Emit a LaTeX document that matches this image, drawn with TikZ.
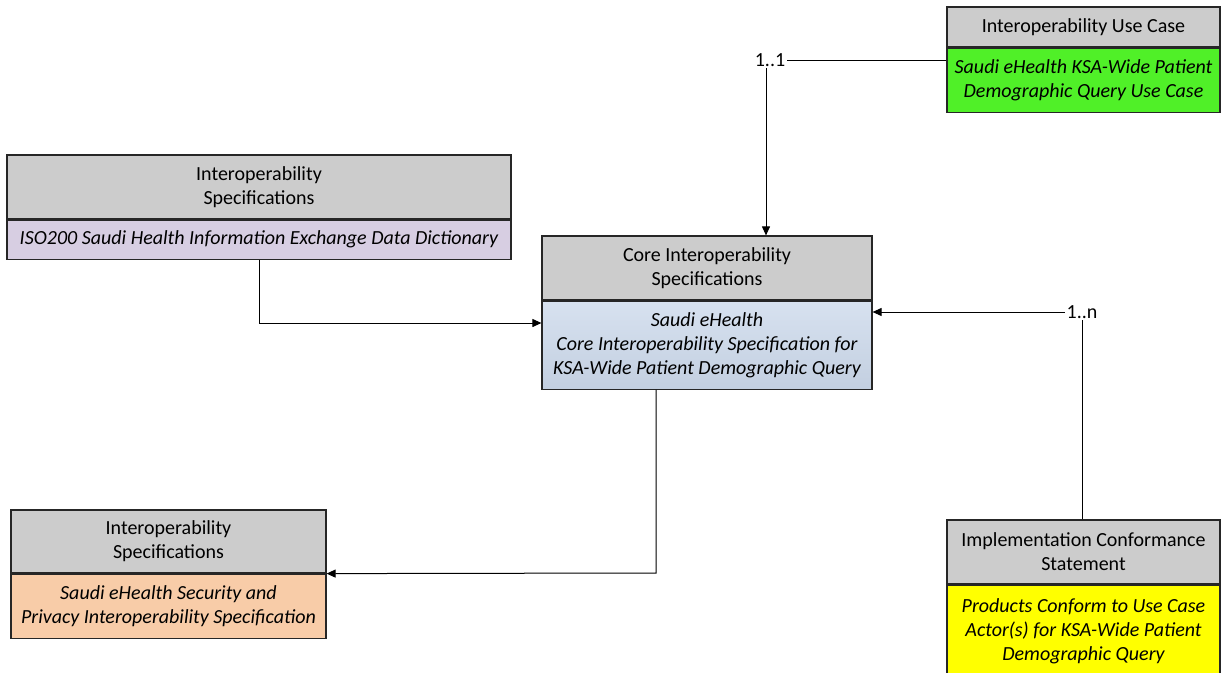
\documentclass[tikz,border=0pt]{standalone}
\usepackage{fontspec}
\setmainfont{Carlito}
\usetikzlibrary{arrows.meta}
\definecolor{headgray}{RGB}{204,204,204}
\definecolor{ucgreen}{RGB}{80,240,40}
\definecolor{isolav}{RGB}{215,206,226}
\definecolor{coreblue}{RGB}{205,218,236}
\definecolor{secorange}{RGB}{248,204,168}
\definecolor{icsyellow}{RGB}{255,255,0}
\tikzset{
  boxpart/.style={draw=black!85, line width=1.2pt, align=center, inner sep=0pt, font=\fontsize{20}{23.8}\selectfont},
  hdr/.style={boxpart, fill=headgray},
  bodypart/.style={boxpart, font=\fontsize{20}{23.8}\selectfont\itshape},
  conn/.style={line width=1pt, black},
  arr/.style={conn, -{Triangle[length=9pt,width=8pt]}},
  lab/.style={fill=white, inner sep=1.5pt, font=\fontsize{20}{23.8}\selectfont}
}
\begin{document}
\begin{tikzpicture}[x=1pt,y=-1pt]
\fill[white] (0,0) rectangle (1225,672);
\clip (0,0) rectangle (1225,672);
% Use case
\node[hdr, minimum width=273pt, minimum height=40pt] (ucH) at (1083.5,27) {Interoperability Use Case};
\node[bodypart, fill=ucgreen, minimum width=273pt, minimum height=64pt, anchor=north] (ucB) at (ucH.south) {Saudi eHealth KSA-Wide Patient\\Demographic Query Use Case};
% ISO
\node[hdr, minimum width=504pt, minimum height=64pt] (isoH) at (259,187) {Interoperability\\Specifications};
\node[bodypart, fill=isolav, minimum width=504pt, minimum height=39pt, anchor=north] (isoB) at (isoH.south) {ISO200 Saudi Health Information Exchange Data Dictionary};
% Core
\node[hdr, minimum width=330pt, minimum height=64pt] (coreH) at (707,268) {Core Interoperability\\Specifications};
\node[bodypart, top color=coreblue!80!white, bottom color=coreblue!95!black, minimum width=330pt, minimum height=88pt, anchor=north] (coreB) at (coreH.south) {Saudi eHealth\\Core Interoperability Specification for\\KSA-Wide Patient Demographic Query};
% Security
\node[hdr, minimum width=315pt, minimum height=63pt] (secH) at (168.5,541.5) {Interoperability\\Specifications};
\node[bodypart, fill=secorange, minimum width=315pt, minimum height=64pt, anchor=north] (secB) at (secH.south) {Saudi eHealth Security and\\Privacy Interoperability Specification};
% ICS
\node[hdr, minimum width=273pt, minimum height=64pt] (icsH) at (1083.5,552) {Implementation Conformance\\Statement};
\node[bodypart, fill=icsyellow, minimum width=273pt, minimum height=92pt, anchor=north] (icsB) at (icsH.south) {Products Conform to Use Case\\Actor(s) for KSA-Wide Patient\\Demographic Query};
% connectors
\coordinate (k1) at (766,60);
\draw[arr] (ucB.west |- k1) -- (k1) -- (coreH.north -| k1);
\node[lab] (l1) at ([xshift=4pt]k1) {1..1};
\coordinate (k2) at (1082,312);
\draw[arr] (icsH.north -| k2) -- (k2) -- (coreB.east |- k2);
\node[lab] (l2) at (k2) {1..n};
\coordinate (k3) at (259,323);
\draw[arr] (isoB.south) -- (k3) -- (coreB.west |- k3);
\coordinate (k4) at (656,573);
\draw[arr] (coreB.south -| k4) -- (k4) -- (secB.north east);
\end{tikzpicture}
\end{document}
